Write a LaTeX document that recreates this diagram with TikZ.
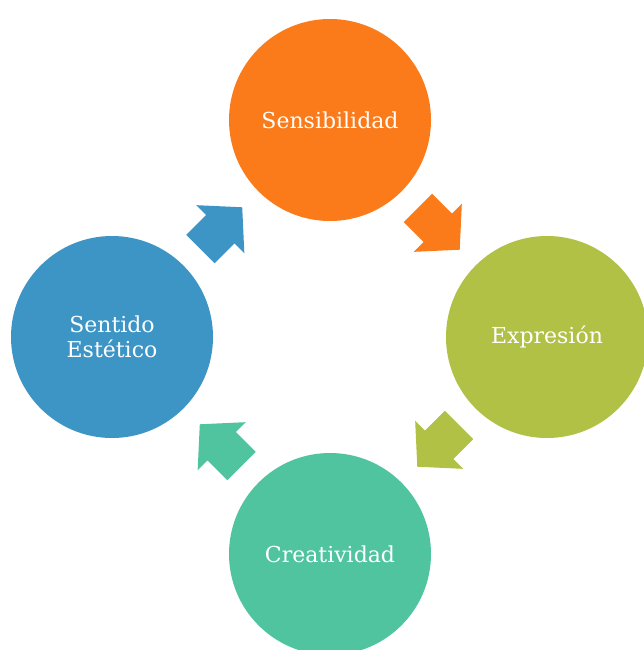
\documentclass[tikz,border=0pt]{standalone}
\usepackage{fontspec}
\setmainfont{DejaVu Serif}
\usepackage{xcolor}
\definecolor{ColS}{RGB}{251,122,25}
\definecolor{ColE}{RGB}{176,193,69}
\definecolor{ColC}{RGB}{80,196,159}
\definecolor{ColT}{RGB}{60,149,197}
\usepackage{tikz}
\usetikzlibrary{calc}
\tikzstyle{Stage}=[circle,minimum size=202pt,inner sep=0pt,text=white,
align=center,font=\fontsize{22}{25}\selectfont]
\tikzstyle{Flow}=[draw=none]

\begin{document}
\begin{tikzpicture}[x=1pt,y=-1pt]
        \clip(0,0)rectangle(644,650);
        \fill[white](0,0)rectangle(644,650);
        \node[Stage,fill=ColS](sens)at(330,120){Sensibilidad};
        \node[Stage,fill=ColE](expr)at(547,337){Expresión};
        \node[Stage,fill=ColC](crea)at(330,554){Creatividad};
        \node[Stage,fill=ColT](sent)at(112,337){Sentido\\Estético};
        \foreach \a/\b/\c/\r in {sens/expr/ColS/-45,expr/crea/ColE/-135,
            crea/sent/ColC/135,sent/sens/ColT/45}{
            \begin{scope}[shift={($(\a)!.5!(\b)$)},rotate=\r]
                \fill[Flow,\c](-29,-20)--(-1,-20)--(-1,-34)--(30,0)
                    --(-1,34)--(-1,20)--(-29,20)--cycle;
            \end{scope}
        }
    \end{tikzpicture}
\end{document}
